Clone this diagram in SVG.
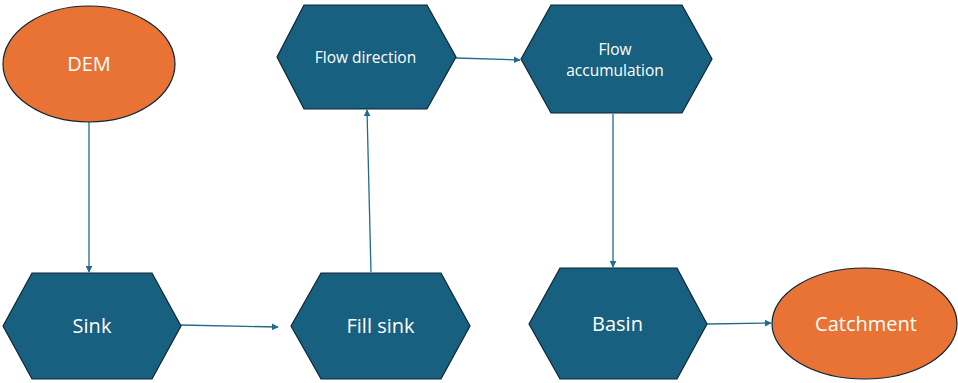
<svg xmlns="http://www.w3.org/2000/svg" width="958" height="383" viewBox="0 0 958 383">
<defs>
<style>
.hex{fill:#17607f;stroke:#0e2536;stroke-width:1.2}
.ell{fill:#e97334;stroke:#0e2536;stroke-width:1.2}
.t{fill:#ffffff;font-family:"Open Sans","Liberation Sans",sans-serif;text-anchor:middle}
.big{font-size:20px}
.sm{font-size:15.5px}
.c{fill:none;stroke:#1f6c8c;stroke-width:1.3;marker-end:url(#ah)}
</style>
<marker id="ah" viewBox="0 0 10 10" refX="9" refY="5" markerWidth="7" markerHeight="7" markerUnits="userSpaceOnUse" orient="auto">
<path d="M0,0 L10,5 L0,10 z" fill="#1f6c8c"/>
</marker>
</defs>
<rect width="958" height="383" fill="#ffffff"/>
<g id="connectors">
<line class="c" x1="89" y1="122" x2="89" y2="272"/>
<line class="c" x1="181" y1="325" x2="278" y2="327"/>
<line class="c" x1="371" y1="272" x2="367" y2="110"/>
<line class="c" x1="456" y1="58" x2="520" y2="60"/>
<line class="c" x1="613" y1="114" x2="613" y2="267"/>
<line class="c" x1="707" y1="324" x2="771" y2="323"/>
</g>
<g id="dem">
<ellipse class="ell" cx="89" cy="64" rx="86" ry="58"/>
<text class="t big" x="89" y="71">DEM</text>
</g>
<g id="sink">
<polygon class="hex" points="3,326 32,273 152,273 181,326 152,379 32,379"/>
<text class="t big" x="92" y="333">Sink</text>
</g>
<g id="fill-sink">
<polygon class="hex" points="291,326 321,273 441,273 470,326 441,379 321,379"/>
<text class="t big" x="380.5" y="333">Fill sink</text>
</g>
<g id="flow-direction">
<polygon class="hex" points="277,57 304,5 427,5 456,57 427,109 304,109"/>
<text class="t sm" x="365.5" y="63">Flow direction</text>
</g>
<g id="flow-accumulation">
<polygon class="hex" points="521,59 551,5 682,5 712,59 682,113 551,113"/>
<text class="t sm" x="615" y="55">Flow</text>
<text class="t sm" x="615" y="76">accumulation</text>
</g>
<g id="basin">
<polygon class="hex" points="529,324 560,268 677,268 707,324 677,379 560,379"/>
<text class="t big" x="617.5" y="331">Basin</text>
</g>
<g id="catchment">
<ellipse class="ell" cx="864.5" cy="323.5" rx="92.5" ry="55.5"/>
<text class="t big" x="866" y="331">Catchment</text>
</g>
</svg>
